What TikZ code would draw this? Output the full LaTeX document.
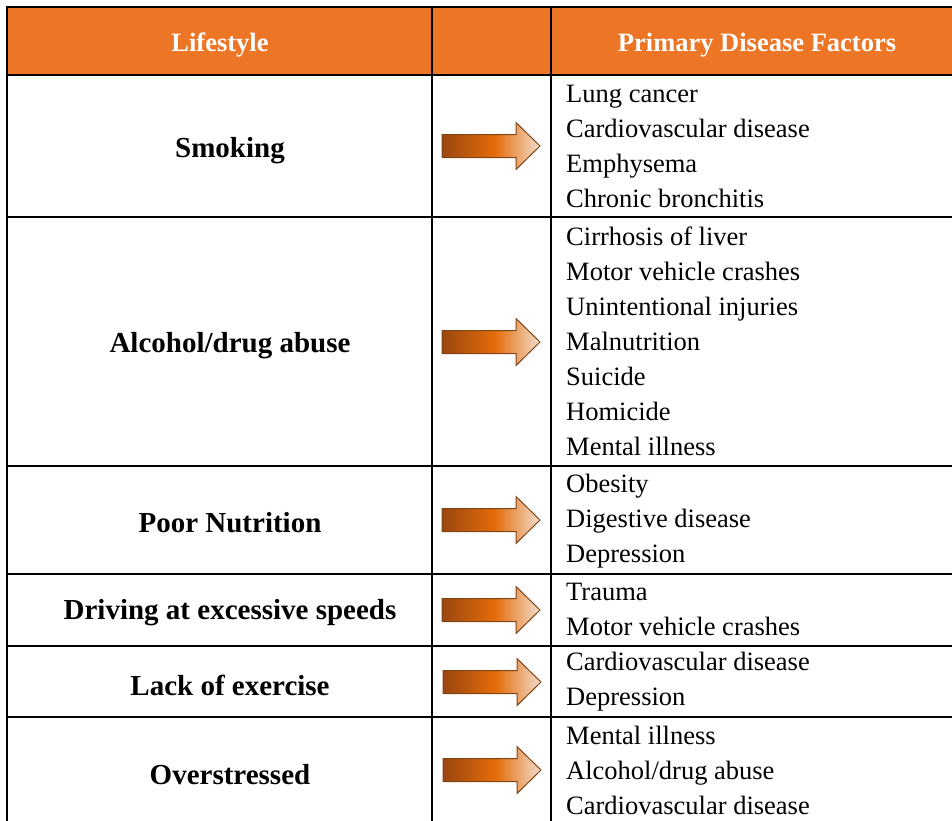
\documentclass[tikz,border=0pt]{standalone}
\usepackage{fontspec}
\setmainfont{Liberation Serif}
\usetikzlibrary{shadings}
\definecolor{hdrorange}{HTML}{ED7626}
\definecolor{arrdark}{HTML}{9B4610}
\definecolor{arrmid}{HTML}{E46C0A}
\definecolor{arrlight}{HTML}{F2DDCD}
\definecolor{arredge}{HTML}{7F4614}
\pgfdeclarehorizontalshading{arrowshade}{100bp}{color(0bp)=(arrdark); color(25bp)=(arrdark); color(52bp)=(arrmid); color(75bp)=(arrlight); color(100bp)=(arrlight)}
\tikzset{
  grid/.style={line width=2pt, black},
  hdrtext/.style={font=\fontsize{26.5}{30}\selectfont\bfseries, text=white, inner sep=0pt},
  lifetext/.style={font=\fontsize{29}{35}\selectfont\bfseries, inner sep=0pt},
  listtext/.style={font=\fontsize{26.5}{35}\selectfont, align=left, anchor=west, inner sep=0pt},
  arrowbody/.style={shading=arrowshade, draw=arredge, line width=1pt},
  fatarrow/.pic={\path[arrowbody] (0,-11.5) -- (74,-11.5) -- (74,-23.5) -- (98,0) -- (74,23.5) -- (74,11.5) -- (0,11.5) -- cycle;}
}
\begin{document}
\begin{tikzpicture}[x=1pt,y=-1pt]
\useasboundingbox (0,0) rectangle (952,820);
\clip (0,0) rectangle (952,820);
\fill[white] (0,0) rectangle (952,820);
% header
\fill[hdrorange] (7,7) rectangle (970,75);
% grid lines
\foreach \yy in {7,75,217,466,574,646,717} \draw[grid] (6,\yy) -- (970,\yy);
\foreach \xx in {7,432,551} \draw[grid] (\xx,6) -- (\xx,830);
% header texts
\node[hdrtext] (h1) at (220,45) {Lifestyle};
\node[hdrtext] (h2) at (757,45) {Primary Disease Factors};
% lifestyle labels
\node[lifetext] (l1) at (230,151) {Smoking};
\node[lifetext] (l2) at (230,346) {Alcohol/drug abuse};
\node[lifetext] (l3) at (230,523) {Poor Nutrition};
\node[lifetext] (l4) at (230,613) {Driving at excessive speeds};
\node[lifetext] (l5) at (230,685) {Lack of exercise};
\node[lifetext] (l6) at (230,775) {Overstressed};
% arrows
\pic (a1) at (442,146) {fatarrow};
\pic (a2) at (442,342) {fatarrow};
\pic (a3) at (442,520) {fatarrow};
\pic (a4) at (442,610) {fatarrow};
\pic (a5) at (443,682) {fatarrow};
\pic (a6) at (443,770) {fatarrow};
% disease lists
\node[listtext] (d1) at (566,146) {Lung cancer\\Cardiovascular disease\\Emphysema\\Chronic bronchitis};
\node[listtext] (d2) at (566,341.5) {Cirrhosis of liver\\Motor vehicle crashes\\Unintentional injuries\\Malnutrition\\Suicide\\Homicide\\Mental illness};
\node[listtext] (d3) at (566,521) {Obesity\\Digestive disease\\Depression};
\node[listtext] (d4) at (566,609) {Trauma\\Motor vehicle crashes};
\node[listtext] (d5) at (566,681.5) {Cardiovascular disease\\Depression};
\node[listtext] (d6) at (566,770) {Mental illness\\Alcohol/drug abuse\\Cardiovascular disease};
\end{tikzpicture}
\end{document}
